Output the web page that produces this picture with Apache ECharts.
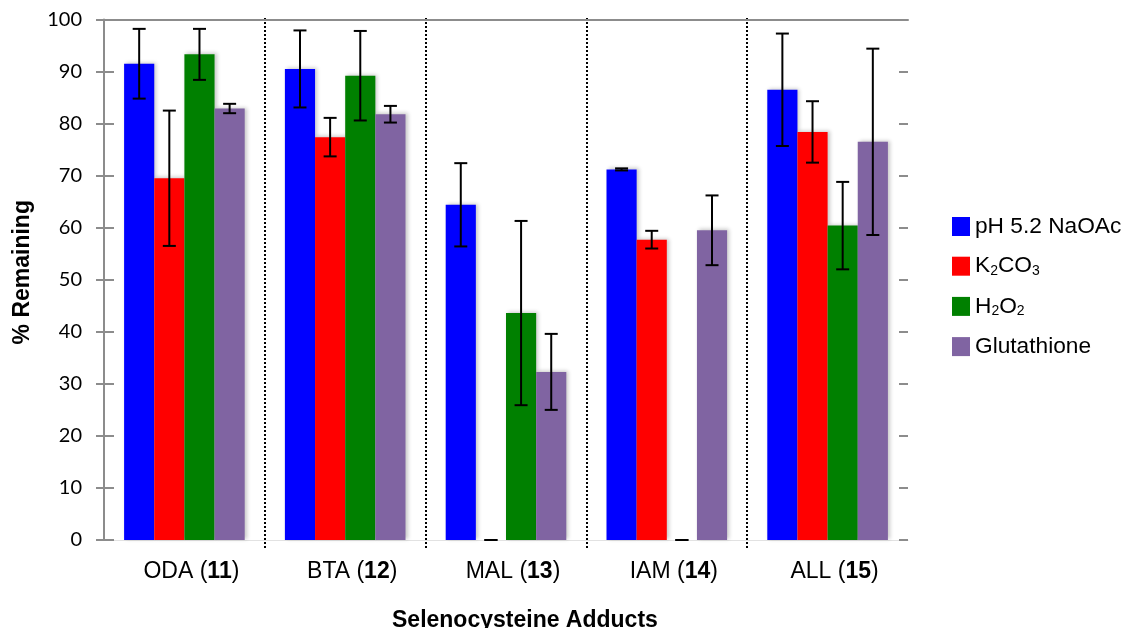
<!DOCTYPE html>
<html>
<head>
<meta charset="utf-8">
<script src="https://cdn.jsdelivr.net/npm/echarts@6/dist/echarts.min.js"></script>
<style>html,body{margin:0;padding:0;background:#fff}#c{width:1127px;height:628px}</style>
</head>
<body>
<div id="c"></div>
<script>
// ---- data ----
const categories = ['ODA', 'BTA', 'MAL', 'IAM', 'ALL'];
const categoryNumbers = ['11', '12', '13', '14', '15'];
const seriesNames = ['pH 5.2 NaOAc', 'K2CO3', 'H2O2', 'Glutathione'];
const naoacMean = [91.5, 90.5, 64.4, 71.2, 86.5];
const naoacErr = [6.7, 7.4, 8.0, 0.2, 10.8];
const k2co3Mean = [69.5, 77.4, 0, 57.7, 78.4];
const k2co3Err = [13.0, 3.7, 0, 1.7, 5.9];
const h2o2Mean = [93.3, 89.2, 43.6, 0, 60.4];
const h2o2Err = [4.9, 8.6, 17.7, 0, 8.4];
const gshMean = [82.9, 81.8, 32.3, 59.5, 76.5];
const gshErr = [0.9, 1.6, 7.3, 6.7, 17.9];
const yTicks = [0, 10, 20, 30, 40, 50, 60, 70, 80, 90, 100];

const colors = ['#0000FF', '#FF0000', '#008000', '#8064A2'];
const means = [naoacMean, k2co3Mean, h2o2Mean, gshMean];
const errs = [naoacErr, k2co3Err, h2o2Err, gshErr];
const legendLabels = {
  'pH 5.2 NaOAc': '{n|pH 5.2 NaOAc}',
  'K2CO3': '{n|K}{s|2}{n|CO}{s|3}',
  'H2O2': '{n|H}{s|2}{n|O}{s|2}',
  'Glutathione': '{n|Glutathione}'
};

const errData = [];
means.forEach((m, si) => m.forEach((v, ci) => errData.push([ci, v, errs[si][ci], si])));

const chart = echarts.init(document.getElementById('c'));
const CAT_GAP = 0.25;
const FONT = 'Liberation Sans, Arial, sans-serif';

const barSeries = seriesNames.map((name, si) => ({
  name: name,
  type: 'bar',
  data: means[si],
  barGap: '0%',
  barCategoryGap: (CAT_GAP * 100) + '%',
  itemStyle: {
    color: colors[si],
    shadowBlur: 4,
    shadowColor: 'rgba(0,0,0,0.22)',
    shadowOffsetX: 2,
    shadowOffsetY: -1
  },
  z: 2
}));

chart.setOption({
  animation: false,
  backgroundColor: '#fff',
  textStyle: { fontFamily: FONT },
  title: {
    text: 'Selenocysteine Adducts',
    left: 387,
    top: 604,
    textStyle: { fontSize: 23, fontWeight: 'bold', color: '#000', fontFamily: FONT }
  },
  legend: {
    orient: 'vertical',
    left: 947,
    top: 210,
    itemWidth: 18,
    itemHeight: 19,
    itemGap: 16.7,
    icon: 'rect',
    data: seriesNames,
    formatter: function (n) { return legendLabels[n]; },
    textStyle: {
      rich: {
        n: { fontSize: 22.7, lineHeight: 24, color: '#000', fontFamily: FONT },
        s: { fontSize: 14, lineHeight: 12, verticalAlign: 'bottom', color: '#000', fontFamily: FONT }
      }
    }
  },
  grid: [
    { left: 104, right: 219, top: 19.5, bottom: 88, containLabel: false },
    { left: 104, right: 219, top: 18, bottom: 80, containLabel: false }
  ],
  xAxis: [
    {
      type: 'category',
      gridIndex: 0,
      data: categories,
      axisLine: { show: true, onZero: false, lineStyle: { color: '#e2e2e2', width: 1 } },
      axisTick: { show: false },
      splitLine: { show: false },
      axisLabel: {
        margin: 20,
        padding: [0, 0, 0, 14],
        formatter: function (v, i) { return '{n|' + v + ' (}{b|' + categoryNumbers[i] + '}{n|)}'; },
        rich: {
          n: { fontSize: 23, color: '#000', fontFamily: FONT },
          b: { fontSize: 23, fontWeight: 'bold', color: '#000', fontFamily: FONT }
        }
      }
    },
    {
      type: 'category',
      gridIndex: 0,
      position: 'top',
      data: categories,
      axisLine: { show: true, onZero: false, lineStyle: { color: '#8c8c8c', width: 2 } },
      axisTick: { show: false },
      axisLabel: { show: false },
      splitLine: { show: false }
    },
    {
      type: 'category',
      gridIndex: 1,
      data: categories,
      axisLine: { show: false },
      axisTick: { show: false },
      axisLabel: { show: false },
      splitLine: {
        show: true,
        showMinLine: false,
        showMaxLine: false,
        lineStyle: { color: '#000', type: [2, 2], width: 2 }
      }
    }
  ],
  yAxis: [
    {
      type: 'value',
      gridIndex: 0,
      min: 0, max: 100, interval: 10,
      name: '% Remaining',
      nameLocation: 'middle',
      nameGap: 70,
      nameTextStyle: { fontSize: 23, fontWeight: 'bold', color: '#000', fontFamily: FONT, padding: [0, 0, 0, 15] },
      axisLine: { show: true, onZero: false, lineStyle: { color: '#8c8c8c', width: 2 } },
      axisTick: { show: true, inside: false, length: 8, lineStyle: { color: '#8c8c8c', width: 2 } },
      axisLabel: {
        margin: 22,
        fontSize: 20,
        color: '#000',
        fontFamily: 'Lato, Open Sans, sans-serif',
        customValues: yTicks
      },
      splitLine: { show: false }
    },
    {
      type: 'value',
      gridIndex: 0,
      position: 'left',
      min: 0, max: 100, interval: 10,
      axisLine: { show: false },
      axisTick: { show: true, inside: true, length: 10, lineStyle: { color: '#8c8c8c', width: 2 } },
      axisLabel: { show: false },
      splitLine: { show: false }
    },
    {
      type: 'value',
      gridIndex: 0,
      position: 'right',
      min: 0, max: 100, interval: 10,
      axisLine: { show: false },
      axisTick: { show: true, inside: true, length: 9, lineStyle: { color: '#8c8c8c', width: 2 } },
      axisLabel: { show: false },
      splitLine: { show: false }
    },
    {
      type: 'value',
      gridIndex: 1,
      min: 0, max: 100,
      show: false
    }
  ],
  series: barSeries.concat([{
    type: 'custom',
    name: 'err',
    xAxisIndex: 0,
    yAxisIndex: 0,
    z: 5,
    encode: { x: 0, y: 1 },
    data: errData,
    renderItem: function (params, api) {
      const ci = api.value(0), m = api.value(1), e = api.value(2), si = api.value(3);
      const band = api.size([1, 0])[0];
      const bw = band * (1 - CAT_GAP) / 4;
      const cx = api.coord([ci, 0])[0] + (si - 1.5) * bw;
      const yt = api.coord([ci, m + e])[1];
      const yb = api.coord([ci, m - e])[1];
      const half = 6.5;
      const st = { stroke: '#000', lineWidth: 2 };
      return {
        type: 'group',
        children: [
          { type: 'line', shape: { x1: cx, y1: yt, x2: cx, y2: yb }, style: st },
          { type: 'line', shape: { x1: cx - half, y1: yt, x2: cx + half, y2: yt }, style: st },
          { type: 'line', shape: { x1: cx - half, y1: yb, x2: cx + half, y2: yb }, style: st }
        ]
      };
    }
  }])
});
</script>
</body>
</html>
